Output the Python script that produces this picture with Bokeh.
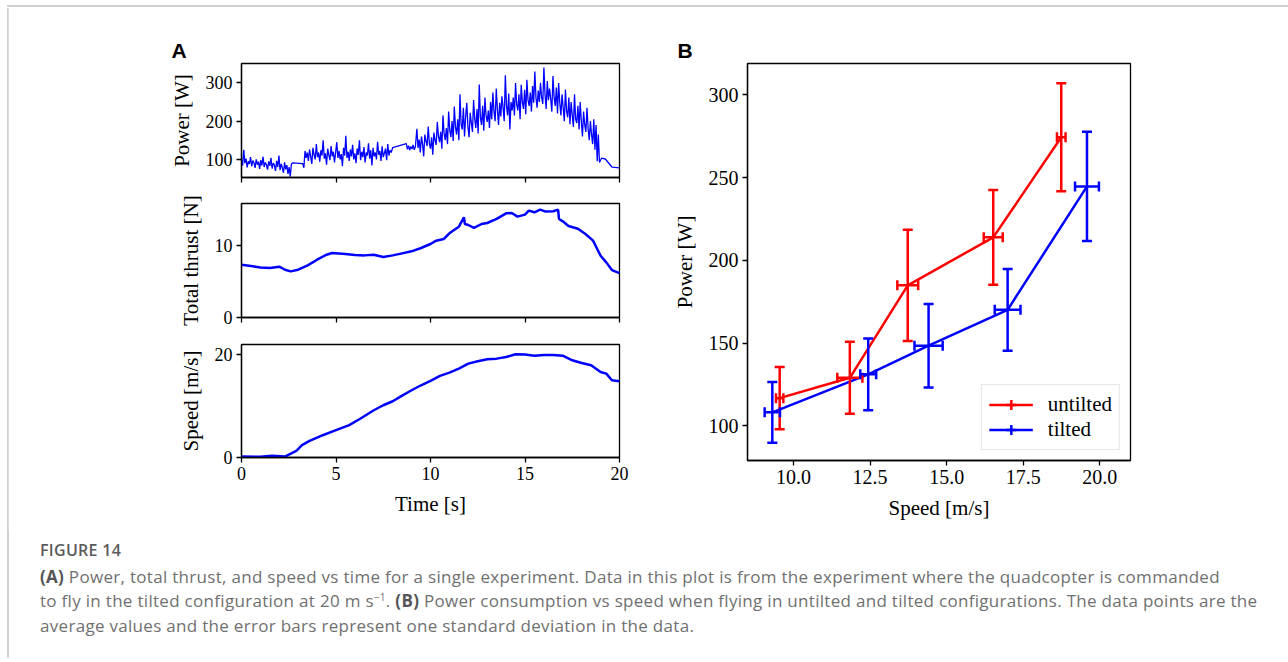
import numpy as np
from bokeh.plotting import figure
from bokeh.layouts import column, row
from bokeh.models import (ColumnDataSource, Whisker, TeeHead, Legend, LegendItem,
                          Range1d, FixedTicker, PrintfTickFormatter, Div)
from bokeh.embed import file_html
from bokeh.resources import INLINE

SERIF = "Liberation Serif"

# ---------------- Panel A data ----------------
SAMPLE_DT = 0.06
power_seg1_start = 0.0
power_seg1 = [98, 84, 125, 90, 102, 79, 95, 88, 106, 82,
              97, 91, 78, 100, 86, 94, 75, 98, 84, 107,
              80, 92, 86, 73, 95, 83, 104, 76, 90, 85,
              70, 96, 80, 110, 72, 88, 78, 65, 92, 74,
              85, 62, 80, 55, 88]
power_gap1_t = [2.72, 3.24, 3.30]
power_gap1 = [91, 89, 78]
power_seg2_start = 3.36
power_seg2 = [122, 104, 118, 96, 126, 108, 88, 130, 112, 100,
              140, 106, 118, 94, 124, 110, 150, 102, 116, 86,
              128, 112, 98, 135, 108, 120, 92, 118, 145, 104,
              122, 100, 114, 82, 130, 110, 162, 104, 120, 96,
              126, 108, 138, 100, 116, 90, 128, 112, 150, 98,
              120, 106, 132, 92, 118, 110, 142, 102, 124, 84,
              130, 108, 118, 100, 146, 112, 122, 96, 134, 106,
              116, 128, 98, 140, 110, 124, 118]
power_gap2_t = [8.00, 8.72, 8.78, 8.84, 8.90, 8.96, 9.02, 9.08, 9.14, 9.20]
power_gap2 = [131, 141, 126, 136, 124, 134, 127, 138, 125, 133]
power_seg3_start = 9.28
power_seg3 = [180, 130, 152, 118, 160, 140, 108, 165, 148, 135, 186, 142, 128, 158, 112, 170, 150,
              138, 198, 160, 145, 172, 128, 215, 168, 150, 182, 140, 225, 176, 158, 200, 148, 238,
              185, 165, 205, 150, 270, 192, 178, 235, 160, 212, 248, 186, 158, 222, 196, 172, 255,
              205, 182, 232, 168, 296, 210, 190, 240, 175, 262, 215, 198, 228, 182, 250, 205, 275,
              225, 200, 285, 230, 190, 248, 212, 265, 236, 200, 320, 240, 215, 272, 178, 250, 228,
              262, 215, 300, 244, 228, 270, 205, 295, 250, 232, 282, 218, 308, 255, 240, 275, 225,
              292, 248, 330, 262, 235, 280, 250, 300, 262, 245, 340, 270, 232, 305, 255, 285, 258,
              225, 318, 262, 240, 288, 220, 300, 248, 215, 270, 235, 200, 283, 226, 210, 262, 192,
              250, 215, 185, 270, 205, 195, 240, 178, 250, 200, 160, 225, 190, 172, 235, 180, 150,
              200, 165, 140, 205, 125, 190, 95, 165, 92]
power_tail_t = [19.05, 19.25, 19.60, 20.00]
power_tail = [103, 101, 80, 78]

thrust_t = [0, 0.5, 1, 1.5, 2, 2.3, 2.6, 3, 3.5, 4, 4.5, 4.8, 5.5, 6, 6.5, 7, 7.5, 8,
            8.5, 9, 9.5, 10, 10.3, 10.7, 11, 11.5, 11.77, 11.82, 12.0, 12.3, 12.7, 13,
            13.5, 14, 14.3, 14.6, 15, 15.2, 15.5, 15.8, 16.1, 16.5, 16.75, 16.8, 17.0,
            17.3, 17.8, 18.2, 18.6, 19.0, 19.3, 19.6, 20]
thrust_n = [7.31, 7.13, 6.94, 6.85, 7.04, 6.62, 6.39, 6.62, 7.22, 8.01, 8.70, 8.94,
            8.80, 8.66, 8.61, 8.70, 8.38, 8.61, 8.89, 9.17, 9.63, 10.19, 10.65, 10.88,
            11.67, 12.59, 13.89, 12.96, 12.82, 12.41, 12.96, 13.10, 13.66, 14.44,
            14.49, 13.98, 14.26, 14.81, 14.58, 14.95, 14.68, 14.72, 14.95, 13.66,
            13.33, 12.69, 12.31, 11.57, 10.65, 8.56, 7.64, 6.57, 6.16]

speed_t = [0, 1, 1.6, 2.3, 2.9, 3.2, 3.6, 4.3, 5, 5.7, 6.3, 7, 7.5, 8, 8.5, 9, 9.5,
           10, 10.5, 11, 11.5, 12, 12.5, 13, 13.5, 14, 14.5, 15, 15.5, 16, 16.5, 17,
           17.5, 18, 18.5, 19, 19.3, 19.6, 20]
speed_ms = [0.19, 0.13, 0.32, 0.19, 1.29, 2.39, 3.23, 4.32, 5.29, 6.26, 7.55, 9.16,
            10.13, 10.9, 12.0, 13.03, 14.0, 14.84, 15.81, 16.45, 17.23, 18.19, 18.65,
            19.03, 19.16, 19.48, 20.0, 19.94, 19.74, 19.87, 19.87, 19.74, 18.84,
            18.32, 17.87, 16.58, 16.26, 14.97, 14.77]

time_ticks = [0, 5, 10, 15, 20]

# ---------------- Panel B data ----------------
untilted_speed = [9.55, 11.84, 13.73, 16.52, 18.74]
untilted_speed_sd = [0.12, 0.41, 0.34, 0.31, 0.14]
untilted_power = [116.7, 129.0, 184.9, 213.9, 274.4]
untilted_power_sd = [18.8, 21.8, 33.6, 28.6, 32.7]

tilted_speed = [9.31, 12.44, 14.41, 16.99, 19.58]
tilted_speed_sd = [0.25, 0.26, 0.46, 0.42, 0.39]
tilted_power = [108.1, 131.1, 148.4, 170.1, 244.7]
tilted_power_sd = [18.4, 21.7, 25.2, 24.7, 33.0]

series_labels = ["untilted", "tilted"]


def seg_times(start, n):
    return [round(start + SAMPLE_DT * i, 2) for i in range(n)]


power_t = (seg_times(power_seg1_start, len(power_seg1)) + power_gap1_t +
           seg_times(power_seg2_start, len(power_seg2)) + power_gap2_t +
           seg_times(power_seg3_start, len(power_seg3)) + power_tail_t)
power_w = power_seg1 + power_gap1 + power_seg2 + power_gap2 + power_seg3 + power_tail


def style(p, tick_px, label_px):
    p.grid.visible = False
    p.outline_line_color = "black"
    p.outline_line_width = 1.3
    p.background_fill_color = "white"
    p.border_fill_color = "white"
    for ax in p.axis:
        ax.axis_line_width = 1.3
        ax.axis_line_color = "black"
        ax.major_tick_line_width = 1.3
        ax.major_tick_line_color = "black"
        ax.major_tick_out = 5
        ax.major_tick_in = 0
        ax.minor_tick_line_color = None
        ax.major_label_text_font = SERIF
        ax.major_label_text_font_size = tick_px
        ax.major_label_text_color = "black"
        ax.major_label_standoff = 4
        ax.axis_label_text_font = SERIF
        ax.axis_label_text_font_style = "normal"
        ax.axis_label_text_font_size = label_px
        ax.axis_label_text_color = "black"
        ax.axis_label_standoff = 9


def hide_x_labels(p):
    p.xaxis.major_label_text_font_size = "1px"
    p.xaxis.major_label_text_color = None


def panel_title(p, txt):
    p.title.text = txt
    p.title.align = "left"
    p.title.offset = -70
    p.title.standoff = 4
    p.title.text_font = "Liberation Sans"
    p.title.text_font_style = "bold"
    p.title.text_font_size = "21px"
    p.title.text_color = "black"


common = dict(output_backend="svg", toolbar_location=None, tools="")

# ---- A1: power
pA1 = figure(width=652, height=182, min_border_left=233, min_border_right=41,
             min_border_top=55, min_border_bottom=13,
             x_range=Range1d(0, 20), y_range=Range1d(52.6, 350.8), **common)
pA1.line(power_t, power_w, line_color="#0000ff", line_width=1.3)
style(pA1, "18px", "21px")
pA1.xaxis.ticker = FixedTicker(ticks=time_ticks)
hide_x_labels(pA1)
pA1.yaxis.ticker = FixedTicker(ticks=[100, 200, 300])
pA1.yaxis.axis_label = "Power [W]"
panel_title(pA1, "A")

# ---- A2: thrust
pA2 = figure(width=652, height=140, min_border_left=233, min_border_right=41,
             min_border_top=13, min_border_bottom=13,
             x_range=Range1d(0, 20), y_range=Range1d(0, 15.8), **common)
pA2.line(thrust_t, thrust_n, line_color="#0000ff", line_width=2.5)
style(pA2, "18px", "21px")
pA2.xaxis.ticker = FixedTicker(ticks=time_ticks)
hide_x_labels(pA2)
pA2.yaxis.ticker = FixedTicker(ticks=[0, 10])
pA2.yaxis.axis_label = "Total thrust [N]"

# ---- A3: speed
pA3 = figure(width=652, height=200, min_border_left=233, min_border_right=41,
             min_border_top=14, min_border_bottom=73,
             x_range=Range1d(0, 20), y_range=Range1d(0, 21.9), **common)
pA3.line(speed_t, speed_ms, line_color="#0000ff", line_width=2.5)
style(pA3, "18px", "21px")
pA3.xaxis.ticker = FixedTicker(ticks=time_ticks)
pA3.xaxis.axis_label = "Time [s]"
pA3.yaxis.ticker = FixedTicker(ticks=[0, 20])
pA3.yaxis.axis_label = "Speed [m/s]"

# ---- B: power vs speed
pB = figure(width=620, height=522, min_border_left=87, min_border_right=150,
            min_border_top=55, min_border_bottom=70,
            x_range=Range1d(8.5, 21.0), y_range=Range1d(79, 319), **common)
style(pB, "20px", "21px")
panel_title(pB, "B")
pB.xaxis.ticker = FixedTicker(ticks=[10, 12.5, 15, 17.5, 20])
pB.xaxis.formatter = PrintfTickFormatter(format="%.1f")
pB.yaxis.ticker = FixedTicker(ticks=[100, 150, 200, 250, 300])
pB.xaxis.axis_label = "Speed [m/s]"
pB.yaxis.axis_label = "Power [W]"

items = []
for label, xs, xsd, ys, ysd, color in [
        (series_labels[0], untilted_speed, untilted_speed_sd, untilted_power, untilted_power_sd, "#ff0000"),
        (series_labels[1], tilted_speed, tilted_speed_sd, tilted_power, tilted_power_sd, "#0000ff")]:
    src = ColumnDataSource(dict(
        x=xs, y=ys,
        ylo=[y - s for y, s in zip(ys, ysd)], yhi=[y + s for y, s in zip(ys, ysd)],
        xlo=[x - s for x, s in zip(xs, xsd)], xhi=[x + s for x, s in zip(xs, xsd)]))
    for base, lo, hi, dim in [("x", "ylo", "yhi", "height"), ("y", "xlo", "xhi", "width")]:
        w = Whisker(source=src, base=base, lower=lo, upper=hi, dimension=dim,
                    line_color=color, line_width=2.5, level="glyph",
                    lower_head=TeeHead(size=10, line_color=color, line_width=2.5),
                    upper_head=TeeHead(size=10, line_color=color, line_width=2.5))
        pB.add_layout(w)
    ln = pB.line("x", "y", source=src, line_color=color, line_width=2.5)
    cr = pB.scatter(x=[np.nan], y=[np.nan], marker="cross", size=12,
                    line_color=color, line_width=2.5)
    items.append(LegendItem(label=label, renderers=[ln, cr]))

legend = Legend(items=items, location="bottom_right", margin=10, padding=7, spacing=0,
                glyph_width=44, glyph_height=25, label_standoff=15,
                label_text_font=SERIF, label_text_font_size="21px", label_text_color="black",
                border_line_color="#cccccc", border_line_width=1.3,
                background_fill_color="white", background_fill_alpha=0.9)
pB.add_layout(legend)

caption_html = """
<div style="font-family:'Open Sans'; color:#707070; font-size:17px; line-height:24.5px;
            padding-left:32px; padding-top:8px; white-space:nowrap; letter-spacing:0.3px;">
  <div style="font-weight:600; color:#5a5a5a; margin-bottom:2px; font-size:16px;">FIGURE 14</div>
  <div><b style="color:#555">(A)</b> Power, total thrust, and speed vs time for a single experiment. Data in this plot is from the experiment where the quadcopter is commanded</div>
  <div>to fly in the tilted configuration at 20 m s<sup style="font-size:10px; line-height:0; vertical-align:6px;">&minus;1</sup>. <b style="color:#555">(B)</b> Power consumption vs speed when flying in untilted and tilted configurations. The data points are the</div>
  <div>average values and the error bars represent one standard deviation in the data.</div>
</div>
"""
caption = Div(text=caption_html, width=1272, height=118, margin=0)

# thin grey frame lines (top and left) around the figure block, as in the reference page
top_rule = Div(text="", width=1281, height=2, margin=(5, 0, 1, 7),
               styles={"background-color": "#d0d0d0"})
left_rule = Div(text='<div style="margin-left:7px; width:0; height:650px; '
                     'border-left:2px solid #d0d0d0;"></div>', width=8, height=650, margin=0)

main = column(row(column(pA1, pA2, pA3), pB), caption)
layout = column(top_rule, row(left_rule, main))

open("out.html", "w").write(file_html(layout, INLINE))
